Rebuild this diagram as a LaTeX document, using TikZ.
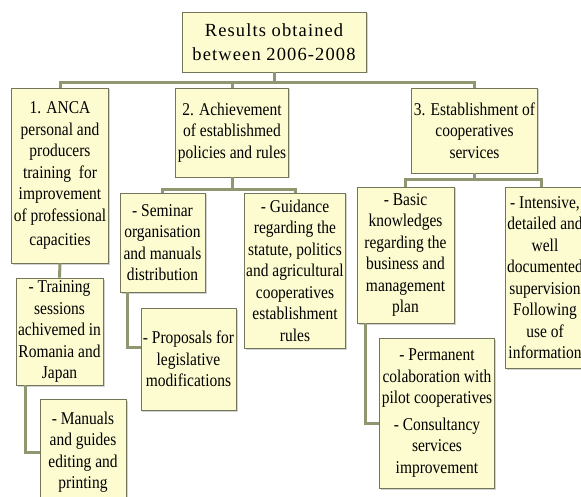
\documentclass[tikz,border=0pt]{standalone}
\usepackage{fontspec}
\usepackage{tikz}
\usetikzlibrary{shadows}
\usepackage{xcolor}
\newfontfamily\boxfont[FakeStretch=0.86]{Liberation Serif}
\newfontfamily\titlefont[LetterSpace=6]{Liberation Serif}
\definecolor{boxfill}{HTML}{FDFBD0}
\definecolor{boxline}{HTML}{74765C}
\definecolor{linkcol}{HTML}{8E9770}
\begin{document}
\begin{tikzpicture}[x=1pt,y=1pt,
    box/.style={draw=boxline,line width=0.8pt,fill=boxfill,align=center,inner sep=2pt,
      drop shadow={shadow xshift=1.5pt,shadow yshift=-1.5pt,fill=black!35},
      font=\boxfont\fontsize{18}{21.5}\selectfont},
    link/.style={draw=linkcol,line width=3pt}]
        \useasboundingbox (0,0) rectangle (581,-497);
        \clip (0,0) rectangle (581,-497);
        \node[box,minimum width=184,minimum height=60,font=\titlefont\fontsize{18.5}{24}\selectfont] (res) at (274,-42) {Results obtained\\between 2006-2008};
        \node[box,minimum width=96,minimum height=175] (anca) at (60,-175.5) {1. ANCA\\personal and\\producers\\training~~for\\improvement\\of professional\\[3pt]capacities};
        \node[box,minimum width=112,minimum height=89] (ach) at (232,-132.5) {2. Achievement\\of establishmed\\policies and rules};
        \node[box,minimum width=125,minimum height=85] (est) at (474.5,-130.5) {3. Establishment of\\cooperatives\\services};
        \node[box,minimum width=87,minimum height=107] (tra) at (59.5,-331.5) {- Training\\sessions\\achivemed in\\Romania and\\Japan};
        \node[box,minimum width=86,minimum height=105] (man) at (83,-452) {- Manuals\\and guides\\editing and\\printing};
        \node[box,minimum width=85,minimum height=99] (sem) at (162.5,-242.5) {- Seminar\\organisation\\and manuals\\distribution};
        \node[box,minimum width=93,minimum height=102] (pro) at (188.5,-359) {- Proposals for\\legislative\\modifications};
        \node[box,minimum width=100,minimum height=155] (gui) at (295,-270.5) {- Guidance\\regarding the\\statute, politics\\and agricultural\\cooperatives\\establishment\\rules};
        \node[box,minimum width=97,minimum height=136] (bas) at (405.5,-255) {- Basic\\knowledges\\regarding the\\business and\\management\\plan};
        \node[box,minimum width=80,minimum height=181] (int) at (545,-277.5) {- Intensive,\\detailed and\\well\\documented\\supervision\\Following\\use of\\information};
        \node[box,minimum width=114,minimum height=150] (per) at (437,-413) {- Permanent\\colaboration with\\pilot cooperatives\\[5pt]- Consultancy\\services\\improvement};
        \coordinate (hub) at (274,-83);
        \coordinate (hubach) at (232,-190);
        \coordinate (hubest) at (474.5,-180);
        \draw[link] (res.south) -- (hub);
        \draw[link] (anca.north) |- (hub) -| (est.north);
        \draw[link] (ach.north) -- (ach.north |- hub);
        \draw[link] (ach.south) -- (hubach);
        \draw[link] (sem.north) |- (hubach) -| (gui.north);
        \draw[link] (est.south) -- (hubest);
        \draw[link] (bas.north) |- (hubest) -| ([xshift=-4pt]int.north);
        \draw[link] (anca.south) -- (tra.north);
        \draw[link] ([xshift=10pt]tra.south west) |- (man.west);
        \draw[link] ([xshift=8pt]sem.south west) |- ([yshift=12pt]pro.west);
        \draw[link] ([xshift=9pt]bas.south west) |- ([yshift=-10pt]per.west);
    \end{tikzpicture}
\end{document}
